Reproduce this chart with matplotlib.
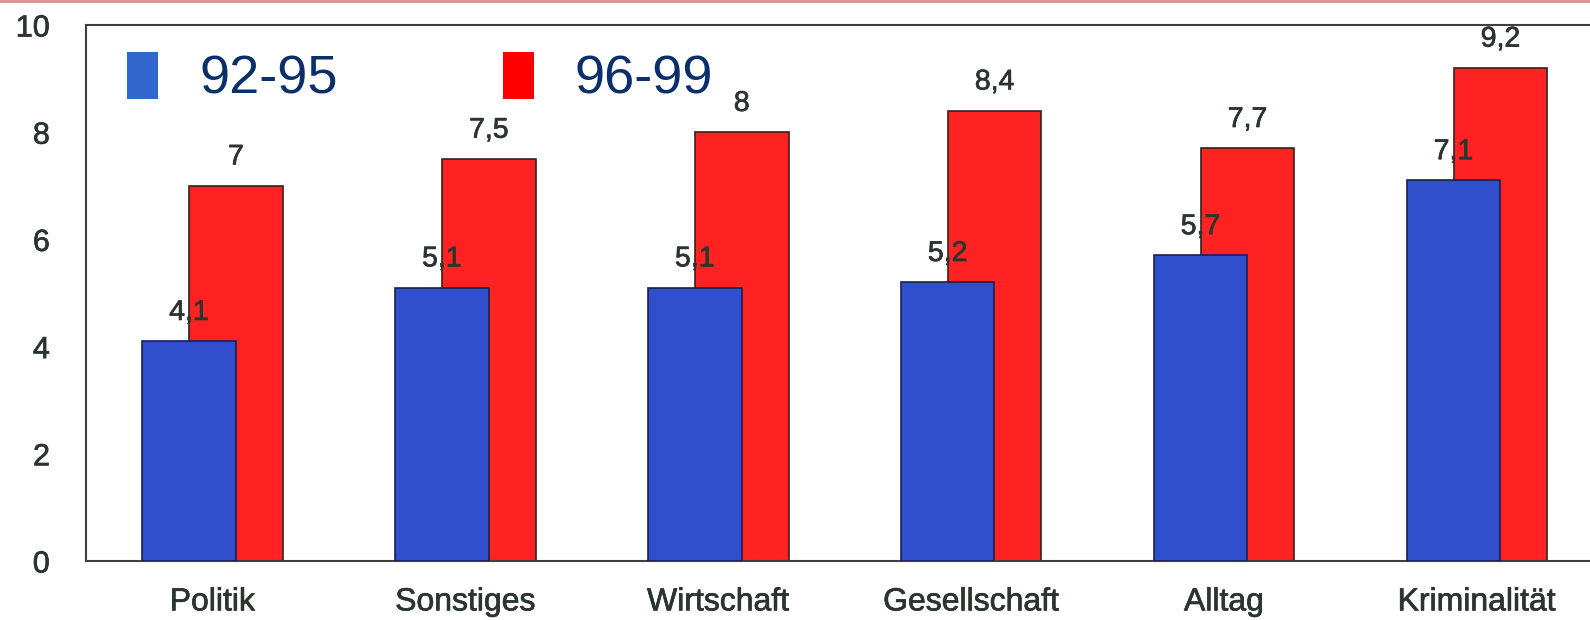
import matplotlib
matplotlib.use("Agg")
import matplotlib.pyplot as plt
import matplotlib.patheffects as pe
from matplotlib.patches import Patch
from matplotlib.lines import Line2D
import numpy as np

# data
categories = ["Politik", "Sonstiges", "Wirtschaft", "Gesellschaft", "Alltag", "Kriminalität"]
series = ["92-95", "96-99"]
vals_9295 = [4.1, 5.1, 5.1, 5.2, 5.7, 7.1]
vals_9699 = [7.0, 7.5, 8.0, 8.4, 7.7, 9.2]
yticks = [0, 2, 4, 6, 8, 10]

blue = "#2f4fcc"
red = "#ff2222"
txt = "#2b3530"
heavy = [pe.withStroke(linewidth=0.5, foreground=txt)]

plt.rcParams['font.family'] = ['Liberation Sans', 'DejaVu Sans']

fig = plt.figure(figsize=(15.9, 6.2), dpi=100)
ax = fig.add_axes([86/1590, 59/620, 1 - 86/1590 + 0.01, 536/620])

x = np.arange(len(categories))
w = 0.37
off = 0.093

# red bars behind, blue in front
ax.bar(x + off, vals_9699, width=w, color=red, edgecolor="#3a2020", linewidth=1.2, zorder=2)
ax.bar(x - off, vals_9295, width=w, color=blue, edgecolor="#1a2050", linewidth=1.2, zorder=3)

def fmt(v):
    s = ("%.1f" % v).replace(".", ",")
    return s[:-2] if s.endswith(",0") else s

for xi, v in zip(x, vals_9699):
    ax.annotate(fmt(v), (xi + off, v), xytext=(0, 11), textcoords="offset points",
                ha="center", va="bottom", fontsize=20.5, color=txt, zorder=5,
                path_effects=heavy)
for xi, v in zip(x, vals_9295):
    ax.annotate(fmt(v), (xi - off, v), xytext=(0, 11), textcoords="offset points",
                ha="center", va="bottom", fontsize=20.5, color=txt, zorder=5,
                path_effects=heavy)

ax.set_xlim(-0.5, 5.51)
ax.set_ylim(0, 10)
ax.set_yticks(yticks)
ax.set_xticks(x)
ax.set_xticklabels(categories)
ax.tick_params(axis="y", length=0, pad=26, labelsize=22, labelcolor=txt)
ax.tick_params(axis="x", length=0, pad=19, labelsize=23, labelcolor=txt)
for lab in ax.get_xticklabels() + ax.get_yticklabels():
    lab.set_path_effects(heavy)

for s in ["left", "top", "bottom"]:
    ax.spines[s].set_color("#404040")
    ax.spines[s].set_linewidth(1.5)
ax.spines["right"].set_visible(False)

handles = [Patch(facecolor="#3366cc", edgecolor="none"), Patch(facecolor="#ff0000", edgecolor="none")]
leg = ax.legend(handles, series, loc="upper left", bbox_to_anchor=(0.027, 0.95), ncol=2,
                frameon=False, fontsize=39, handlelength=0.58, handleheight=0.95,
                handletextpad=0.75, columnspacing=3.05, borderpad=0, borderaxespad=0)
for t in leg.get_texts():
    t.set_color("#0a2f6b")

# thin pink rule along the top edge of the scan
fig.add_artist(Line2D([0, 1], [0.998, 0.998], color="#e08a8a", lw=2))

fig.savefig("out.png", dpi=100)
